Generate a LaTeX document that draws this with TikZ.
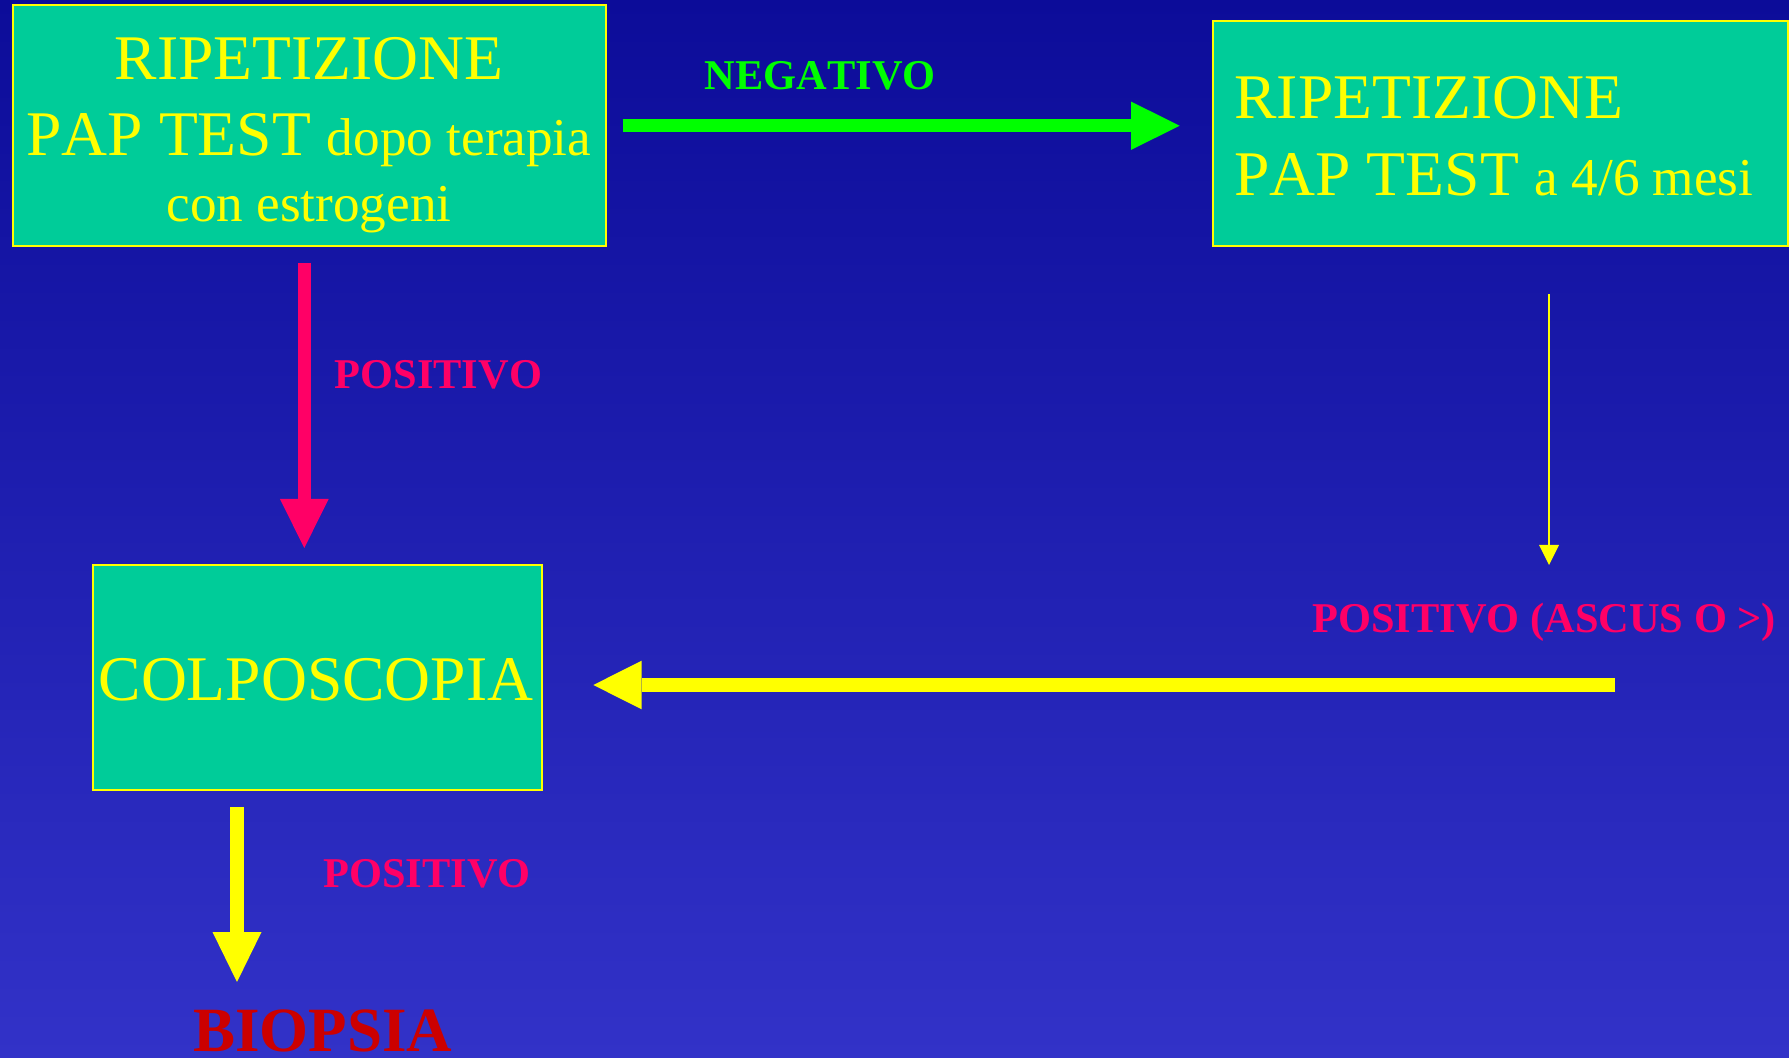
\documentclass[tikz,border=0pt]{standalone}
\usepackage{fontspec}
\setmainfont[Kerning=Off]{Liberation Serif}
\usetikzlibrary{arrows.meta}
\definecolor{bgtop}{RGB}{12,12,153}
\definecolor{bgbot}{RGB}{50,50,200}
\definecolor{boxfill}{RGB}{0,204,153}
\definecolor{ylw}{RGB}{255,255,0}
\definecolor{pinkred}{RGB}{255,0,102}
\definecolor{grn}{RGB}{0,255,0}
\definecolor{darkred}{RGB}{204,0,0}
\newcommand{\FBig}{\fontsize{31.8}{38}\selectfont}
\newcommand{\FSm}{\fontsize{26.6}{32}\selectfont}
\newcommand{\FLab}{\fontsize{21.2}{25}\selectfont\bfseries}
\tikzset{
  box/.style={draw=ylw, line width=1pt, fill=boxfill, inner sep=0pt, rectangle},
  boxtext/.style={inner sep=0pt, text=ylw, font=\FBig},
  lab/.style={inner sep=0pt, font=\FLab, anchor=base west},
  fat/.style={line width=6.65pt},
}
\begin{document}
\begin{tikzpicture}[x=0.5pt,y=-0.5pt]
\useasboundingbox (0,0) rectangle (1789,1058);
\shade[top color=bgtop, bottom color=bgbot] (0,0) rectangle (1789,1058);

% boxes
\node[box, minimum width=296.5pt, minimum height=120.25pt] (b1) at (309,125.75) {};
\node[box, minimum width=287.5pt, minimum height=112.25pt] (b2) at (1500.5,133.75) {};
\node[box, minimum width=224.5pt, minimum height=112pt] (b3) at (317,677.5) {};

% box texts
\node[boxtext, anchor=base] (t1a) at (309,79.5) {RIPETIZIONE};
\node[boxtext, anchor=base] (t1b) at (309,156) {PAP TEST {\FSm dopo terapia}};
\node[boxtext, anchor=base, font=\FSm] (t1c) at (309,222) {con estrogeni};
\node[boxtext, anchor=base west] (t2a) at (1234,118.5) {RIPETIZIONE};
\node[boxtext, anchor=base west] (t2b) at (1234,196) {PAP TEST {\FSm a 4/6 mesi}};
\node[boxtext, anchor=base] (t3) at (316,701) {COLPOSCOPIA};

% labels
\node[lab, text=grn] (neg) at (704.5,89.3) {NEGATIVO};
\node[lab, text=pinkred] (pos1) at (334.3,388.3) {POSITIVO};
\node[lab, text=pinkred] (pos2) at (323,887) {POSITIVO};
\node[lab, text=pinkred] (asc) at (1312,633) {POSITIVO (ASCUS O >)};
\node[inner sep=0pt, anchor=base west, text=darkred, font=\fontsize{31.5}{38}\selectfont\bfseries] (bio) at (193,1051) {BIOPSIA};

% green arrow
\coordinate (gs) at ([xshift=8pt]b1.east);
\coordinate (ge) at (gs -| b2.west);
\draw[grn, line width=6.4pt, -{Triangle[length=24.3pt,width=24.2pt,line width=0pt]}] (gs) -- ([xshift=-16.2pt]ge);

% red arrow
\coordinate (rs) at ([xshift=-2.35pt,yshift=-8pt]b1.south);
\coordinate (re) at (rs |- b3.north);
\draw[pinkred, fat, -{Triangle[length=24.5pt,width=24.35pt,line width=0pt]}] (rs) -- ([yshift=8.25pt]re);

% thin yellow arrow
\coordinate (ts) at ([xshift=24.25pt,yshift=-23.5pt]b2.south);
\coordinate (te) at (ts |- asc.base);
\draw[ylw, line width=1pt, -{Triangle[length=10pt,width=10pt,line width=0pt]}] (ts) -- ([yshift=34pt]te);

% horizontal yellow arrow
\coordinate (hs) at ([xshift=151.5pt,yshift=-26pt]asc.base west);
\coordinate (he) at (hs -| b3.east);
\draw[ylw, fat, -{Triangle[length=24.2pt,width=24.3pt,line width=0pt]}] (hs) -- ([xshift=25.4pt]he);

% yellow arrow to biopsia
\coordinate (bs) at ([xshift=-40pt,yshift=-8.25pt]b3.south);
\coordinate (be) at (bs |- bio.base);
\draw[ylw, line width=6.8pt, -{Triangle[length=25pt,width=24.5pt,line width=0pt]}] (bs) -- ([yshift=34.5pt]be);
\end{tikzpicture}
\end{document}
